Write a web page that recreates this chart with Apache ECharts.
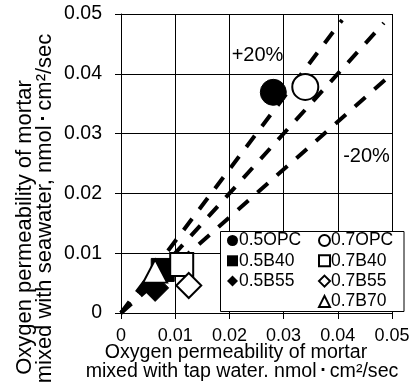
<!DOCTYPE html>
<html>
<head>
<meta charset="utf-8">
<script src="https://cdn.jsdelivr.net/npm/echarts@6/dist/echarts.min.js"></script>
<style>html,body{margin:0;padding:0;background:#fff}#c{width:414px;height:392px}</style>
</head>
<body>
<div id="c"></div>
<script>
// ---- data ----
var seriesNames = ['0.5OPC', '0.5B40', '0.5B55', '0.7OPC', '0.7B40', '0.7B55', '0.7B70'];
var tapWater   = [0.0281, 0.0077, 0.0063, 0.0340, 0.0112, 0.0125, 0.0063];
var seaWater   = [0.0369, 0.0072, 0.0042, 0.0378, 0.0081, 0.0046, 0.0070];
var symbols    = ['circle', 'rect', 'diamond', 'circle', 'rect', 'diamond', 'triangle'];
var filled     = [true, true, true, false, false, false, false];
var tickValues = [0, 0.01, 0.02, 0.03, 0.04, 0.05];
var plus20Line  = [[0, 0], [0.0408, 0.049]];
var equalLine   = [[0, 0], [0.0485, 0.0485]];
var minus20Line = [[0, 0], [0.05, 0.04]];
var xTitle = ['Oxygen permeability of mortar', 'mixed with tap water. nmol\u200A\uFF65\u200Acm\u00B2/sec'];
var yTitle = ['Oxygen permeability of mortar', 'mixed with seawater, nmol\u200A\uFF65\u200Acm\u00B2/sec'];
var annotations = ['+20%', '-20%'];

var FONT = '"Liberation Sans", Arial, sans-serif';
var chart = echarts.init(document.getElementById('c'), null, {renderer: 'canvas'});

var symSizes = {circle: 26, rect: 23, diamond: 25, triangle: [24, 23]};
var series = [];
[plus20Line, equalLine, minus20Line].forEach(function (d) {
  series.push({
    type: 'line', data: d, symbol: 'none', silent: true, z: 2,
    lineStyle: {color: '#000', width: 4, type: [14, 12], cap: 'butt'}
  });
});
seriesNames.forEach(function (n, i) {
  series.push({
    name: n, type: 'scatter', z: 5,
    symbol: symbols[i],
    symbolSize: (n === '0.5B55') ? 27 : symSizes[symbols[i]],
    data: [[tapWater[i], seaWater[i]]],
    itemStyle: filled[i] ? {color: '#000', borderColor: '#000', borderWidth: 1, opacity: 1}
                         : {color: '#fff', borderColor: '#000', borderWidth: 2, opacity: 1},
    emphasis: {disabled: true}
  });
});

function legendItems(idx) {
  return idx.map(function (i) {
    return {
      name: seriesNames[i], icon: symbols[i],
      itemStyle: filled[i] ? {color: '#000', borderColor: '#000', borderWidth: 0, opacity: 1}
                           : {color: '#fff', borderColor: '#000', borderWidth: 2, opacity: 1}
    };
  });
}
var legendCommon = {
  orient: 'vertical', padding: 0, itemWidth: 11, itemHeight: 11, itemGap: 2.3,
  selectedMode: false, z: 4,
  textStyle: {color: '#000', fontSize: 17.5, fontFamily: FONT, lineHeight: 18, padding: [0, 0, 0, -4]}
};

var axisCommon = {
  type: 'value', min: 0, max: 0.05, interval: 0.01,
  axisLine: {show: true, lineStyle: {color: '#000', width: 1}},
  axisTick: {show: true, inside: false, length: 6, lineStyle: {color: '#000'}},
  splitLine: {show: true, lineStyle: {color: '#000', width: 1}},
  axisLabel: {color: '#000', fontSize: 18, fontFamily: FONT,
    formatter: function (v) { return v === 0 ? '0' : v.toFixed(2); }}
};

chart.setOption({
  animation: false,
  backgroundColor: '#fff',
  grid: {left: 121, right: 22, top: 14, bottom: 79, containLabel: false},
  xAxis: Object.assign({}, axisCommon, {axisLabel: Object.assign({}, axisCommon.axisLabel, {margin: 14})}),
  yAxis: Object.assign({}, axisCommon, {axisLabel: Object.assign({}, axisCommon.axisLabel, {margin: 19, fontSize: 19.5})}),
  legend: [
    Object.assign({}, legendCommon, {left: 227, top: 231.5, data: legendItems([0, 1, 2])}),
    Object.assign({}, legendCommon, {left: 318, top: 231.5, data: legendItems([3, 4, 5, 6])})
  ],
  graphic: [
    {type: 'rect', z: 3, shape: {x: 220.5, y: 231.5, width: 183.5, height: 80},
     style: {fill: '#fff', stroke: '#000', lineWidth: 1}},
    {type: 'text', z: 6, x: 257.5, y: 55, style: {text: annotations[0], font: '20px ' + FONT, fill: '#000', textAlign: 'center', textVerticalAlign: 'middle'}},
    {type: 'text', z: 6, x: 366.5, y: 156, style: {text: annotations[1], font: '20px ' + FONT, fill: '#000', textAlign: 'center', textVerticalAlign: 'middle'}},
    {type: 'text', x: 236, y: 353, style: {text: xTitle[0], font: '19.6px ' + FONT, fill: '#000', textAlign: 'center', textVerticalAlign: 'middle'}},
    {type: 'text', x: 242, y: 372, style: {text: xTitle[1], font: '19.6px ' + FONT, fill: '#000', textAlign: 'center', textVerticalAlign: 'middle'}},
    {type: 'text', x: 25, y: 227.5, rotation: Math.PI / 2, style: {text: yTitle[0], font: '22px ' + FONT, fill: '#000', textAlign: 'center', textVerticalAlign: 'middle'}},
    {type: 'text', x: 45, y: 208.5, rotation: Math.PI / 2, style: {text: yTitle[1], font: '22px ' + FONT, fill: '#000', textAlign: 'center', textVerticalAlign: 'middle'}}
  ],
  series: series
});
</script>
</body>
</html>
